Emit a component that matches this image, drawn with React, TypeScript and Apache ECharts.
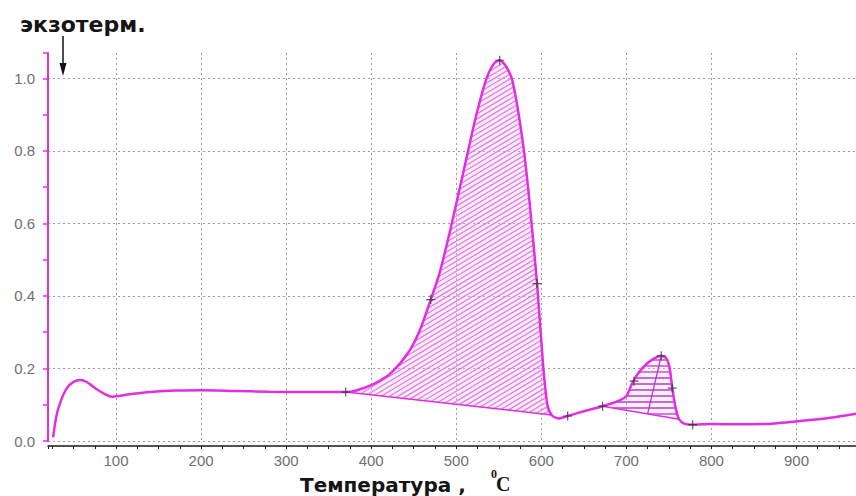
import React, { useEffect, useRef } from 'react';
import * as echarts from 'echarts';

// Temperature (°C) and DTA signal of the main curve
const curveT = [26, 30, 35, 42, 50, 58, 66, 76, 88, 96, 105, 120, 140, 170, 200, 240, 280, 320, 370, 398, 422, 445, 458, 470, 480, 492, 508, 524, 536, 544, 551, 558, 566, 578, 586, 595, 602, 607, 612, 620, 631, 650, 672, 690, 700, 707, 715, 724, 733, 741, 747, 751, 754, 758, 762, 768, 778, 800, 830, 865, 904, 940, 970];
const curveY = [0.01, 0.07, 0.11, 0.145, 0.163, 0.168, 0.162, 0.145, 0.128, 0.122, 0.125, 0.13, 0.135, 0.139, 0.14, 0.138, 0.136, 0.135, 0.135, 0.152, 0.185, 0.249, 0.31, 0.39, 0.46, 0.572, 0.738, 0.903, 1.003, 1.04, 1.05, 1.035, 0.994, 0.829, 0.663, 0.434, 0.213, 0.102, 0.072, 0.062, 0.069, 0.082, 0.096, 0.11, 0.124, 0.16, 0.19, 0.213, 0.228, 0.235, 0.228, 0.2, 0.146, 0.09, 0.06, 0.048, 0.045, 0.047, 0.046, 0.047, 0.055, 0.064, 0.075];

// "+" markers on the curve
const markerT = [370, 470, 551, 595, 631, 672, 709, 741, 754, 778];
const markerY = [0.135, 0.39, 1.05, 0.434, 0.069, 0.096, 0.165, 0.235, 0.146, 0.045];

// Integration ranges of the two exothermic peaks (baseline joins the ends)
const peak1Range = [370, 612];
const peak2Range = [672, 762];
// Drop line inside the second peak
const peak2DropT = [741, 725];
const peak2DropY = [0.235, 0.075];

const MAGENTA = '#e22ee2';

// Hatch segments inside a polygon (pixel space) for lines a*x + b*y = c
function hatchSegments(pts: number[][], a: number, b: number, step: number) {
  const vals = pts.map((p) => a * p[0] + b * p[1]);
  const lo = Math.min(...vals);
  const hi = Math.max(...vals);
  const segs: number[][] = [];
  const start = Math.ceil(lo / step) * step;
  for (let c = start; c <= hi; c += step) {
    const xs: number[][] = [];
    for (let i = 0; i < pts.length; i++) {
      const p = pts[i];
      const q = pts[(i + 1) % pts.length];
      const vp = vals[i];
      const vq = vals[(i + 1) % pts.length];
      if ((vp <= c && vq > c) || (vq <= c && vp > c)) {
        const t = (c - vp) / (vq - vp);
        xs.push([p[0] + t * (q[0] - p[0]), p[1] + t * (q[1] - p[1])]);
      }
    }
    xs.sort((u, v) => u[0] - v[0] || u[1] - v[1]);
    for (let k = 0; k + 1 < xs.length; k += 2) {
      segs.push([xs[k][0], xs[k][1], xs[k + 1][0], xs[k + 1][1]]);
    }
  }
  return segs;
}

function peakRender(range: number[], kind: 'diag' | 'horiz', drop?: boolean) {
  return (_params: any, api: any) => {
    const pts: number[][] = [];
    for (let i = 0; i < curveT.length; i++) {
      if (curveT[i] >= range[0] && curveT[i] <= range[1]) {
        pts.push(api.coord([curveT[i], curveY[i]]));
      }
    }
    const first = pts[0];
    const last = pts[pts.length - 1];
    const segs = kind === 'diag' ? hatchSegments(pts, 0.6, 1, 5) : hatchSegments(pts, 0, 1, 6);
    const hatchColor = kind === 'diag' ? '#de80e0' : '#b83ccc';
    const children: any[] = [
      {
        type: 'polygon',
        shape: { points: pts },
        style: { fill: kind === 'diag' ? 'rgba(240,200,240,0.35)' : 'rgba(240,200,240,0.25)', stroke: null },
      },
    ];
    segs.forEach((s) => {
      children.push({
        type: 'line',
        shape: { x1: s[0], y1: s[1], x2: s[2], y2: s[3] },
        style: { stroke: hatchColor, lineWidth: 1.3, fill: null },
      });
    });
    children.push({
      type: 'line',
      shape: { x1: first[0], y1: first[1], x2: last[0], y2: last[1] },
      style: { stroke: MAGENTA, lineWidth: 1.5, fill: null },
    });
    if (drop) {
      const a = api.coord([peak2DropT[0], peak2DropY[0]]);
      const b = api.coord([peak2DropT[1], peak2DropY[1]]);
      children.push({
        type: 'line',
        shape: { x1: a[0], y1: a[1], x2: b[0], y2: b[1] },
        style: { stroke: '#c030d0', lineWidth: 1.3, fill: null },
      });
    }
    return { type: 'group', children };
  };
}

export default function App() {
  const ref = useRef<HTMLDivElement>(null);
  useEffect(() => {
    if (!ref.current) return;
    const chart = echarts.init(ref.current, undefined, { renderer: 'svg' });
    const gridLine = { color: '#9a9a9a', width: 1, type: [2, 3] as any };
    const labelStyle = { color: '#707070', fontSize: 15, fontFamily: '"Liberation Sans", Arial, sans-serif' };
    chart.setOption({
      animation: false,
      backgroundColor: '#ffffff',
      grid: { left: 48, right: 0, top: 53, bottom: 55, containLabel: false },
      xAxis: {
        type: 'value',
        min: 20,
        max: 970,
        minInterval: 100,
        maxInterval: 100,
        offset: 5,
        axisLine: { show: true, onZero: false, lineStyle: { color: '#1a1a1a', width: 1.5 } },
        axisTick: { show: true, length: 3, lineStyle: { color: '#1a1a1a' } },
        minorTick: { show: true, splitNumber: 4, length: 3, lineStyle: { color: '#1a1a1a' } },
        axisLabel: { ...labelStyle, margin: 7, showMinLabel: false, showMaxLabel: false },
        splitLine: { show: true, lineStyle: gridLine, showMinLine: false, showMaxLine: false },
      },
      yAxis: {
        type: 'value',
        min: 0,
        max: 1.07,
        minInterval: 0.2,
        maxInterval: 0.2,
        axisLine: { show: true, lineStyle: { color: MAGENTA, width: 2 } },
        axisTick: { show: true, length: 5, lineStyle: { color: MAGENTA, width: 1.5 } },
        minorTick: { show: true, splitNumber: 2, length: 5, lineStyle: { color: MAGENTA, width: 1.5 } },
        axisLabel: { ...labelStyle, margin: 13, showMaxLabel: false, formatter: (v: number) => v.toFixed(1) },
        splitLine: { show: true, lineStyle: gridLine, showMaxLine: false },
      },
      graphic: [
        {
          type: 'text',
          x: 20,
          y: 24,
          style: {
            text: 'экзотерм.',
            font: 'bold 22px "DejaVu Sans", Verdana, sans-serif',
            fill: '#151515',
            textVerticalAlign: 'middle',
          },
        },
        { type: 'line', shape: { x1: 63, y1: 36, x2: 63, y2: 68 }, style: { stroke: '#111', lineWidth: 1.5 } },
        { type: 'polygon', shape: { points: [[59.5, 63], [66.5, 63], [63, 76]] }, style: { fill: '#111' } },
        {
          type: 'text',
          x: 300,
          y: 485,
          style: {
            text: 'Температура ,',
            font: 'bold 20px "DejaVu Sans", Verdana, sans-serif',
            fill: '#151515',
            textVerticalAlign: 'middle',
          },
        },
        {
          type: 'text',
          x: 491,
          y: 474,
          style: {
            text: '0',
            font: 'bold 12px "Liberation Serif", "Times New Roman", serif',
            fill: '#151515',
            textVerticalAlign: 'middle',
          },
        },
        {
          type: 'text',
          x: 496,
          y: 484,
          style: {
            text: 'C',
            font: 'bold 20px "Liberation Serif", "Times New Roman", serif',
            fill: '#151515',
            textVerticalAlign: 'middle',
          },
        },
      ],
      series: [
        {
          type: 'custom',
          name: 'peak1',
          coordinateSystem: 'cartesian2d',
          data: [[peak1Range[0], 0]],
          renderItem: peakRender(peak1Range, 'diag'),
          z: 1,
          silent: true,
        },
        {
          type: 'custom',
          name: 'peak2',
          coordinateSystem: 'cartesian2d',
          data: [[peak2Range[0], 0]],
          renderItem: peakRender(peak2Range, 'horiz', true),
          z: 1,
          silent: true,
        },
        {
          type: 'line',
          name: 'DTA',
          data: curveT.map((t, i) => [t, curveY[i]]),
          smooth: 0.25,
          showSymbol: false,
          symbol: 'none',
          lineStyle: { color: MAGENTA, width: 2.5 },
          z: 3,
        },
        {
          type: 'scatter',
          name: 'markers',
          data: markerT.map((t, i) => [t, markerY[i]]),
          symbol: 'path://M0,5L10,5M5,0L5,10',
          symbolSize: 9,
          itemStyle: { color: 'transparent', borderColor: '#333', borderWidth: 1.2 },
          z: 4,
        },
      ],
    });
    return () => chart.dispose();
  }, []);
  return (
    <div
      ref={ref}
      style={{ position: 'fixed', left: 0, top: 0, width: 856, height: 496, background: '#fff' }}
    />
  );
}
